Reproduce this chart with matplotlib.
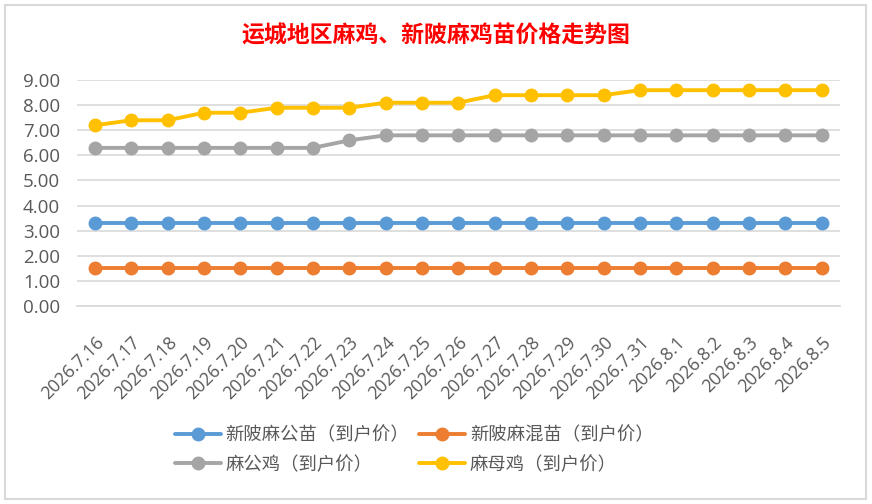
import matplotlib
matplotlib.use('Agg')
import matplotlib.pyplot as plt
from matplotlib.patches import Rectangle

plt.rcParams['font.family'] = ['Noto Sans CJK SC', 'DejaVu Sans']

dates = ['2026.7.16', '2026.7.17', '2026.7.18', '2026.7.19', '2026.7.20', '2026.7.21',
         '2026.7.22', '2026.7.23', '2026.7.24', '2026.7.25', '2026.7.26', '2026.7.27',
         '2026.7.28', '2026.7.29', '2026.7.30', '2026.7.31', '2026.8.1', '2026.8.2',
         '2026.8.3', '2026.8.4', '2026.8.5']

gongmiao = [3.3] * 21
hunmiao = [1.5] * 21
gongji = [6.3, 6.3, 6.3, 6.3, 6.3, 6.3, 6.3, 6.6, 6.8, 6.8, 6.8, 6.8, 6.8, 6.8, 6.8,
          6.8, 6.8, 6.8, 6.8, 6.8, 6.8]
muji = [7.2, 7.4, 7.4, 7.7, 7.7, 7.9, 7.9, 7.9, 8.1, 8.1, 8.1, 8.4, 8.4, 8.4, 8.4,
        8.6, 8.6, 8.6, 8.6, 8.6, 8.6]

series = [
    ('新陂麻公苗（到户价）', gongmiao, '#5B9BD5'),
    ('新陂麻混苗（到户价）', hunmiao, '#ED7D31'),
    ('麻公鸡（到户价）', gongji, '#A5A5A5'),
    ('麻母鸡（到户价）', muji, '#FFC000'),
]

txt = '#595959'
fig = plt.figure(figsize=(8.72, 5.04), dpi=100)
ax = fig.add_axes([0.088, 0.393, 0.875, 0.448])

x = list(range(len(dates)))
lines = []
for name, vals, col in series:
    ln, = ax.plot(x, vals, color=col, lw=2.8, marker='o', ms=9, label=name,
                  solid_capstyle='round', zorder=3)
    lines.append(ln)

ax.set_xlim(-0.5, len(dates) - 0.5)
ax.set_ylim(0, 9)
ax.set_yticks(range(0, 10))
ax.set_yticklabels([f'{v:.2f}' for v in range(0, 10)], family='Open Sans',
                   fontsize=13.5, color=txt)
ax.set_xticks(x)
ax.set_xticklabels(dates, rotation=45, ha='right', va='top', rotation_mode='anchor',
                   family='Open Sans', fontsize=12.8, color=txt)
ax.tick_params(axis='both', length=0)
ax.tick_params(axis='y', pad=12)
ax.tick_params(axis='x', pad=20)
ax.grid(axis='y', color='#D9D9D9', lw=1.2)
for s in ['top', 'right', 'left']:
    ax.spines[s].set_visible(False)
ax.spines['bottom'].set_color('#D9D9D9')
ax.spines['bottom'].set_linewidth(1.2)

fig.text(0.5, 0.928, '运城地区麻鸡、新陂麻鸡苗价格走势图', ha='center', va='center',
         color='#FF0000', fontsize=16.5, fontweight='bold')

# row-wise order: two per row
order = [0, 2, 1, 3]
leg = fig.legend([lines[i] for i in order], [series[i][0] for i in order],
                 loc='center', bbox_to_anchor=(0.475, 0.107), ncol=2, frameon=False,
                 fontsize=13.2, handlelength=2.5, handletextpad=0.28, columnspacing=0.52,
                 labelspacing=0.62, borderpad=0)
for t in leg.get_texts():
    t.set_color(txt)

fig.patches.append(Rectangle((5 / 872, 5 / 504), 861 / 872, 494 / 504,
                             transform=fig.transFigure, fill=False,
                             edgecolor='#D9D9D9', lw=1.5))

fig.savefig('out.png', dpi=100)
